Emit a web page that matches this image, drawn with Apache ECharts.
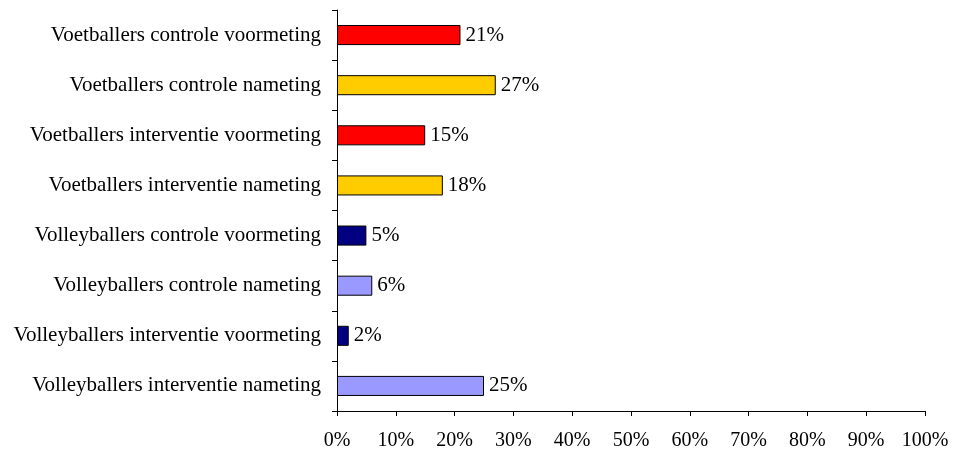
<!DOCTYPE html>
<html><head><meta charset="utf-8">
<script src="https://cdn.jsdelivr.net/npm/echarts@6/dist/echarts.min.js"></script>
<style>html,body{margin:0;padding:0;background:#fff}#c{width:957px;height:452px}</style>
</head><body><div id="c"></div>
<script>
const categories = [
  "Voetballers controle voormeting",
  "Voetballers controle nameting",
  "Voetballers interventie voormeting",
  "Voetballers interventie nameting",
  "Volleyballers controle voormeting",
  "Volleyballers controle nameting",
  "Volleyballers interventie voormeting",
  "Volleyballers interventie nameting"
];
const values = [21, 27, 15, 18, 5, 6, 2, 25];
const barColors = ["#FF0000", "#FFCC00", "#FF0000", "#FFCC00", "#000080", "#9999FF", "#000080", "#9999FF"];
const xTicks = [0, 10, 20, 30, 40, 50, 60, 70, 80, 90, 100];

const font = "'Liberation Serif', 'Times New Roman', serif";
const chart = echarts.init(document.getElementById('c'));
chart.setOption({
  animation: false,
  grid: {left: 337, right: 32, top: 10, bottom: 41, containLabel: false},
  xAxis: {
    type: 'value', min: xTicks[0], max: xTicks[xTicks.length-1], interval: 10,
    axisLine: {show: true, lineStyle: {color: '#000', width: 1}},
    axisTick: {show: true, length: 5, lineStyle: {color: '#000'}},
    splitLine: {show: false},
    axisLabel: {color: '#000', fontFamily: font, fontSize: 20, margin: 20, formatter: v => v + '%'}
  },
  yAxis: {
    type: 'category', data: categories, inverse: true,
    axisLine: {show: true, lineStyle: {color: '#000', width: 1}},
    axisTick: {show: true, length: 5, alignWithLabel: false, lineStyle: {color: '#000'}},
    axisLabel: {color: '#000', fontFamily: font, fontSize: 21, margin: 16}
  },
  series: [{
    type: 'bar',
    data: values.map((v, i) => ({value: v, itemStyle: {color: barColors[i]}})),
    barCategoryGap: '60%',
    itemStyle: {borderColor: '#000', borderWidth: 1},
    label: {show: true, position: 'right', distance: 5, color: '#000', fontFamily: font, fontSize: 21, formatter: p => p.value + '%'}
  }]
});
</script></body></html>
